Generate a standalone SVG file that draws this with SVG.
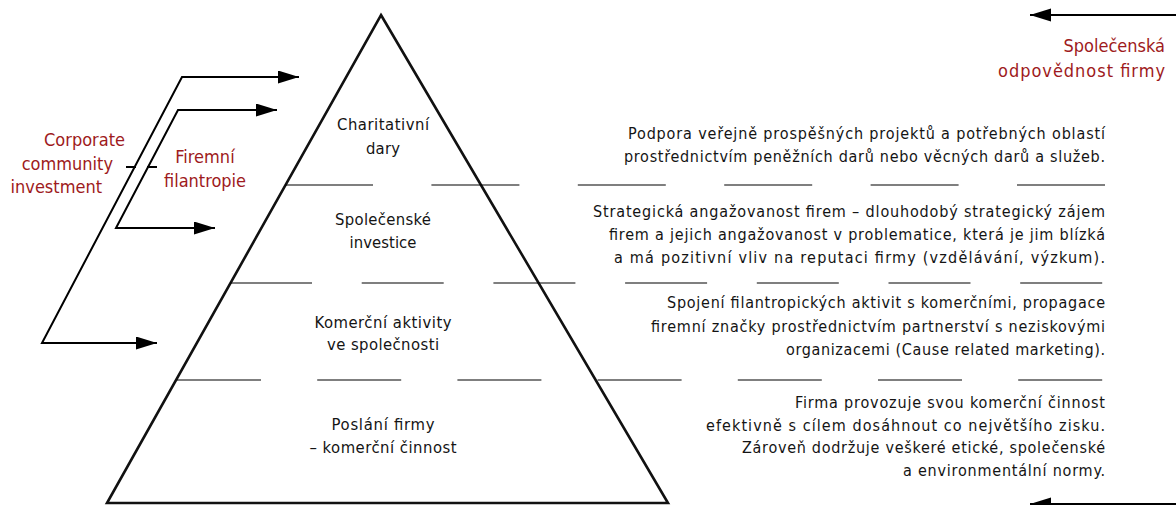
<svg xmlns="http://www.w3.org/2000/svg" width="1176" height="505" viewBox="0 0 1176 505">
<style>
.tri{fill:none;stroke:#111;stroke-width:2.6;stroke-linejoin:miter}
.dash{stroke:#000;stroke-width:1.2;fill:none}
.conn{stroke:#000;stroke-width:2;fill:none}
text{font-family:"DejaVu Sans Condensed","DejaVu Sans",sans-serif;font-stretch:condensed;fill:#141414}
.lvl{font-size:16.5px;text-anchor:middle}
.desc{font-size:16px;text-anchor:end}
.red{fill:#9e1a20;font-size:18px}
</style>
<defs>
<marker id="ah" markerUnits="userSpaceOnUse" markerWidth="22" markerHeight="14" refX="21" refY="6.5" orient="auto-start-reverse">
<path d="M0,0 L21,6.5 L0,13 Z" fill="#000"/>
</marker>
</defs>
<g id="pyramid">
<polygon class="tri" points="381,15 668,503 107,503"/>
</g>
<g id="dividers">
<line class="dash" x1="285" y1="185" x2="1105" y2="185" stroke-dasharray="88 58.4"/>
<line class="dash" x1="230" y1="283" x2="1104" y2="283" stroke-dasharray="82 49.7"/>
<line class="dash" x1="177" y1="380" x2="1104" y2="380" stroke-dasharray="84 56.2"/>
</g>
<g id="level1"><text class="lvl" x="383" y="130" textLength="92">Charitativní</text><text class="lvl" x="383" y="154" textLength="34">dary</text></g>
<g id="level2"><text class="lvl" x="383" y="225" textLength="96">Společenské</text><text class="lvl" x="383" y="248" textLength="67">investice</text></g>
<g id="level3"><text class="lvl" x="383" y="328" textLength="137">Komerční aktivity</text><text class="lvl" x="383" y="350" textLength="112">ve společnosti</text></g>
<g id="level4"><text class="lvl" x="383" y="430" textLength="103">Poslání firmy</text><text class="lvl" x="383" y="453" textLength="147">– komerční činnost</text></g>
<g id="desc1"><text class="desc" x="1105" y="139" textLength="477">Podpora veřejně prospěšných projektů a potřebných oblastí</text><text class="desc" x="1105" y="162" textLength="481">prostřednictvím peněžních darů nebo věcných darů a služeb.</text></g>
<g id="desc2"><text class="desc" x="1105" y="217" textLength="512">Strategická angažovanost firem – dlouhodobý strategický zájem</text><text class="desc" x="1105" y="240" textLength="496">firem a jejich angažovanost v problematice, která je jim blízká</text><text class="desc" x="1105" y="263" textLength="491">a má pozitivní vliv na reputaci firmy (vzdělávání, výzkum).</text></g>
<g id="desc3"><text class="desc" x="1105" y="308" textLength="438">Spojení filantropických aktivit s komerčními, propagace</text><text class="desc" x="1105" y="332" textLength="454">firemní značky prostřednictvím partnerství s neziskovými</text><text class="desc" x="1105" y="355" textLength="319">organizacemi (Cause related marketing).</text></g>
<g id="desc4"><text class="desc" x="1105" y="408" textLength="310">Firma provozuje svou komerční činnost</text><text class="desc" x="1105" y="431" textLength="399">efektivně s cílem dosáhnout co největšího zisku.</text><text class="desc" x="1105" y="453" textLength="363">Zároveň dodržuje veškeré etické, společenské</text><text class="desc" x="1105" y="476" textLength="202">a environmentální normy.</text></g>
<g id="ccinvest"><text class="red" text-anchor="end" x="125" y="146">Corporate</text><text class="red" text-anchor="end" x="113" y="170">community</text><text class="red" text-anchor="end" x="102" y="193">investment</text></g>
<g id="filantropie"><text class="red" text-anchor="middle" x="205" y="163">Firemní</text><text class="red" text-anchor="middle" x="205" y="187">filantropie</text></g>
<g id="csr"><text class="red" text-anchor="end" x="1165" y="52">Společenská</text><text class="red" text-anchor="end" x="1165" y="77" textLength="167">odpovědnost firmy</text></g>
<g id="connectors">
<path class="conn" d="M157,343 H42 L182,77 H299" marker-start="url(#ah)" marker-end="url(#ah)"/>
<path class="conn" d="M215,228 H116 L178,110 H277" marker-start="url(#ah)" marker-end="url(#ah)"/>
<line class="conn" x1="126" y1="167" x2="136" y2="167"/>
<line class="conn" x1="147" y1="167" x2="157" y2="167"/>
<path class="conn" d="M1176,15 H1030" marker-end="url(#ah)"/>
<path class="conn" d="M1176,504 H1030" marker-end="url(#ah)"/>
</g>
</svg>
